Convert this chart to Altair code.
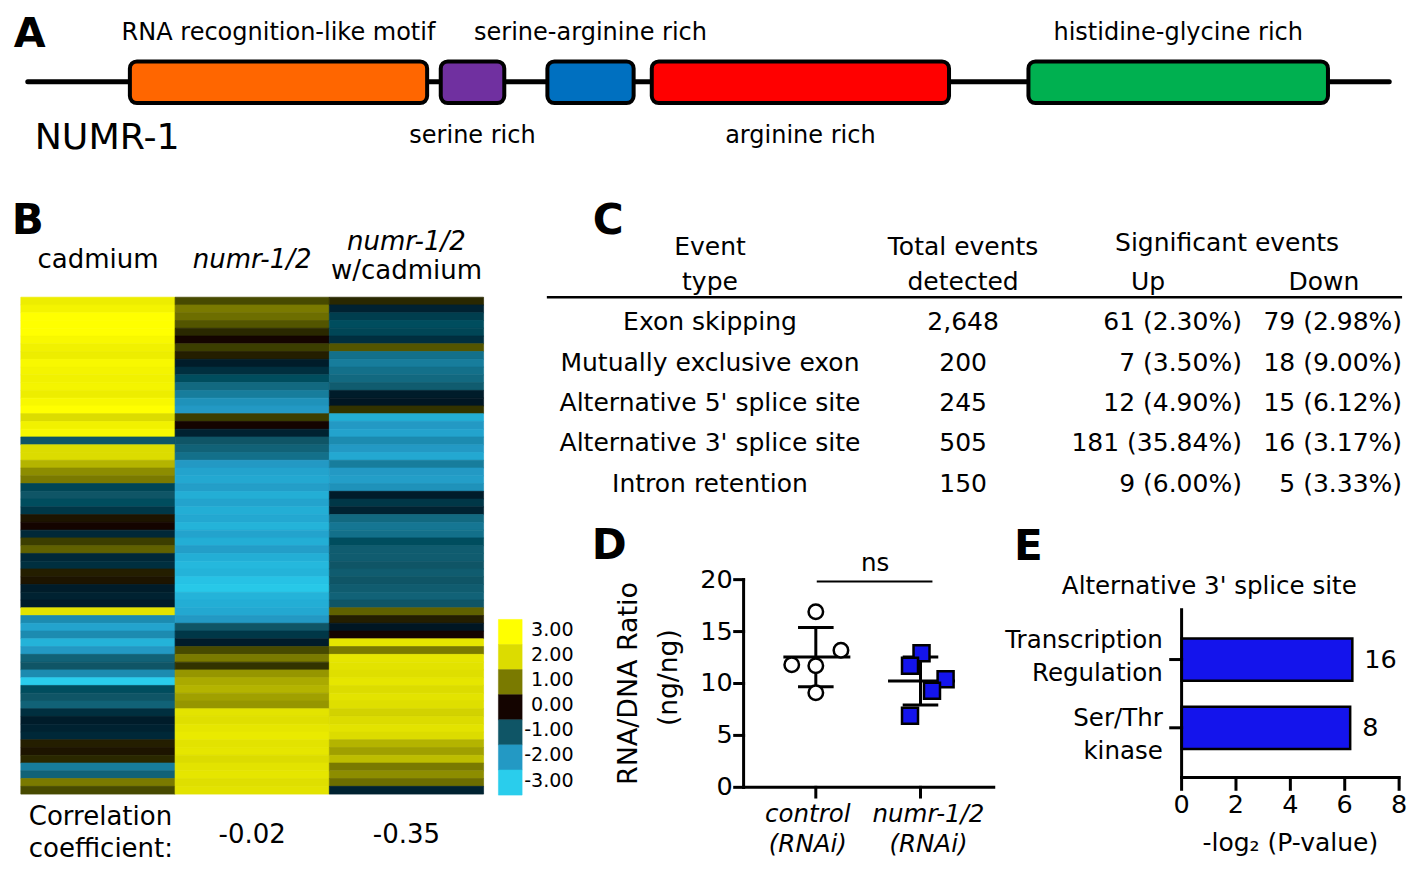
import pandas as pd
import altair as alt

W, H = 1401, 856
SX, SY = W / 1417, H / 882
FONT = "DejaVu Sans"
BLUE = "#1414EC"


def X(v):
    return round(v * SX, 2)


def Y(v):
    return round(v * SY, 2)


def F(s):
    return round(s * 0.98, 1)


# ---------------- data ----------------
# A: NUMR-1 domain architecture (residue coordinates)
protein_length = 600
domain_names = ["RNA recognition-like motif", "serine rich", "serine-arginine rich",
                "arginine rich", "histidine-glycine rich"]
domain_start = [45, 182, 229, 275, 441]
domain_end = [176, 210, 267, 406, 573]
domain_colors = ["#FF6600", "#7030A0", "#0070C0", "#FF0000", "#00B050"]
domain_label_side = ["above", "below", "above", "below", "above"]

# B: heatmap (log fold change per gene block, top to bottom)
conditions = ["cadmium", "numr-1/2", "numr-1/2 w/cadmium"]
cadmium_fc = [2.5, 2.7, 3.0, 3.0, 3.0, 2.8, 2.6, 2.5, 2.8, 2.7, 2.6, 2.7, 2.5, 2.8, 3.0, 2.0,
              2.6, 2.8, -1.0, 2.0, 2.0, 1.6, 1.2, 1.0, -0.8, -1.0, -0.9, -0.6, 0.1, 0.0, -0.4, 0.5,
              0.8, -0.4, -0.5, 0.2, 0.1, -0.2, -0.3, -0.2, 2.2, -1.8, -2.2, -1.8, -2.5, -2.0, -1.2, -1.0,
              -1.8, -3.0, -0.9, -1.0, -1.2, -0.5, -0.2, -0.3, -0.4, 0.2, 0.1, 0.3, -1.6, -1.2, 1.0, 0.6]
numr_fc = [0.6, 1.0, 0.9, 0.7, 0.3, 0.0, 0.5, 0.2, -0.2, -0.5, -0.9, -1.3, -1.6, -1.9, -2.0, 0.5,
           0.0, -0.3, -1.0, -1.2, -1.4, -2.0, -2.2, -2.3, -2.1, -2.4, -2.2, -2.4, -2.3, -2.5, -2.2, -2.4,
           -2.1, -2.4, -2.6, -2.5, -2.8, -2.9, -2.5, -2.4, -2.3, -2.0, -1.0, -0.6, -0.2, 0.6, 1.0, 0.4,
           1.3, 1.5, 1.6, 1.4, 1.3, 2.2, 2.1, 2.3, 2.4, 2.2, 2.3, 2.0, 2.2, 2.3, 2.1, 2.2]
numr_cd_fc = [0.3, -0.3, -0.7, -0.9, -0.8, -0.5, 0.7, -1.4, -1.6, -1.4, -1.3, -1.1, -0.2, -0.1, 0.4, -2.4,
              -2.0, -2.2, -1.8, -2.0, -2.3, -1.6, -2.0, -2.1, -1.9, -0.2, -0.6, -0.3, -1.3, -1.5, -1.4, -0.9,
              -1.1, -1.1, -1.0, -1.1, -1.0, -1.1, -1.2, -1.0, 0.8, 0.2, -0.1, 0.0, 2.3, 1.0, 2.3, 2.2,
              2.1, 2.3, 2.0, 2.2, 2.1, 1.9, 2.0, 2.2, 2.0, 1.6, 1.4, 1.7, 1.0, 1.2, 0.9, -0.3]
correlation_conditions = ["numr-1/2", "numr-1/2 w/cadmium"]
correlation_values = [-0.02, -0.35]
legend_levels = [3, 2, 1, 0, -1, -2, -3]
level_colors = ["#FFFF00", "#DCDC00", "#7A7A00", "#000000", "#0F5566", "#2399C4", "#2ACDEC"]

# C: splicing event table
event_types = ["Exon skipping", "Mutually exclusive exon", "Alternative 5' splice site",
               "Alternative 3' splice site", "Intron retention"]
total_events = [2648, 200, 245, 505, 150]
sig_up = [61, 7, 12, 181, 9]
sig_up_pct = [2.30, 3.50, 4.90, 35.84, 6.00]
sig_down = [79, 18, 15, 16, 5]
sig_down_pct = [2.98, 9.00, 6.12, 3.17, 3.33]

# D: RNA/DNA ratio
rnai_groups = ["control (RNAi)", "numr-1/2 (RNAi)"]
control_ratio = [16.9, 11.8, 11.7, 13.2, 9.1]
numr_ratio = [12.9, 11.7, 10.4, 9.3, 6.9]
control_jitter = [0.0, -0.23, 0.0, 0.24, 0.0]
numr_jitter = [0.01, -0.10, 0.24, 0.11, -0.10]
d_ticks = [0, 5, 10, 15, 20]

# E: enrichment for alternative 3' splice site genes
go_terms = ["Transcription Regulation", "Ser/Thr kinase"]
go_neg_log2_p = [6.28, 6.2]
go_gene_counts = [16, 8]
e_ticks = [0, 2, 4, 6, 8]


# ---------------- helpers ----------------
def label(text, x, y, size, align="center", weight="normal", style="normal", angle=0):
    return alt.Chart(pd.DataFrame({"t": [text]})).mark_text(
        font=FONT, fontSize=F(size), align=align, baseline="middle",
        fontWeight=weight, fontStyle=style, angle=angle, color="black",
    ).encode(x=alt.value(X(x)), y=alt.value(Y(y)), text="t:N")


AXW = 3  # axis stroke width
ax_kw = dict(color="black", strokeWidth=AXW, strokeCap="square")

# ---------------- panel A ----------------
dom_df = pd.DataFrame({"name": domain_names, "start": domain_start, "end": domain_end,
                       "side": domain_label_side})
a_x = alt.Scale(domain=[0, protein_length], range=[X(20), X(1397)], nice=False, zero=False)
backbone = alt.Chart(pd.DataFrame({"start": [0], "end": [protein_length]})).mark_rule(
    color="black", strokeWidth=5, strokeCap="round"
).encode(x=alt.X("start:Q", scale=a_x, axis=None), x2="end:Q", y=alt.value(Y(76)))
boxes = alt.Chart(dom_df).mark_rect(cornerRadius=7, stroke="black", strokeWidth=4).encode(
    x=alt.X("start:Q", scale=a_x, axis=None), x2="end:Q",
    y=alt.value(Y(55)), y2=alt.value(Y(98)),
    fill=alt.Fill("name:N", scale=alt.Scale(domain=domain_names, range=domain_colors), legend=None),
)
dom_lab = alt.Chart(dom_df).transform_calculate(mid="(datum.start + datum.end) / 2")
lab_above = dom_lab.transform_filter("datum.side == 'above'").mark_text(
    font=FONT, fontSize=F(24.5), baseline="middle", color="black"
).encode(x=alt.X("mid:Q", scale=a_x, axis=None), y=alt.value(Y(26)), text="name:N")
lab_below = dom_lab.transform_filter("datum.side == 'below'").mark_text(
    font=FONT, fontSize=F(24.5), baseline="middle", color="black"
).encode(x=alt.X("mid:Q", scale=a_x, axis=None), y=alt.value(Y(132)), text="name:N")
panel_a = alt.layer(backbone, boxes, lab_above, lab_below)

# ---------------- panel B ----------------
n_rows = len(cadmium_fc)
heat_df = pd.DataFrame({
    "row": list(range(n_rows)) * 3,
    "condition": [c for c in conditions for _ in range(n_rows)],
    "fc": cadmium_fc + numr_fc + numr_cd_fc,
})
hx = alt.Scale(domain=conditions, range=[X(13), X(481)], paddingInner=0, paddingOuter=0)
hy = alt.Scale(domain=list(range(n_rows)), range=[Y(298), Y(810)], paddingInner=0, paddingOuter=0)
color_scale = alt.Scale(domain=sorted(legend_levels), range=level_colors[::-1])
heat = alt.Chart(heat_df).mark_rect(strokeWidth=0.7).encode(
    x=alt.X("condition:N", scale=hx, axis=None),
    y=alt.Y("row:O", scale=hy, axis=None),
    fill=alt.Fill("fc:Q", scale=color_scale, legend=None),
    stroke=alt.Stroke("fc:Q", scale=color_scale, legend=None),
)


def head(cond, text, y, style):
    return alt.Chart(pd.DataFrame({"condition": [cond], "t": [text]})).mark_text(
        font=FONT, fontSize=F(26.5), baseline="middle", fontStyle=style, color="black"
    ).encode(x=alt.X("condition:N", scale=hx, axis=None), y=alt.value(Y(y)), text="t:N")


third = conditions[2].split(" ")
h1 = head(conditions[0], conditions[0], 260, "normal")
h2 = head(conditions[1], conditions[1], 260, "italic")
h3a = head(conditions[2], third[0], 241, "italic")
h3b = head(conditions[2], third[1], 271, "normal")
corr = alt.Chart(pd.DataFrame({"condition": correlation_conditions,
                               "t": [f"{v:.2f}" for v in correlation_values]})).mark_text(
    font=FONT, fontSize=F(26.5), baseline="middle", color="black"
).encode(x=alt.X("condition:N", scale=hx, axis=None), y=alt.value(Y(852)), text="t:N")
panel_b = alt.layer(heat, h1, h2, h3a, h3b, corr)

leg_df = pd.DataFrame({"level": legend_levels, "t": [f"{v:.2f}" for v in legend_levels]})
ly = alt.Scale(domain=legend_levels, range=[Y(630), Y(811)], paddingInner=0, paddingOuter=0)
leg_rect = alt.Chart(leg_df).mark_rect(strokeWidth=0.5).encode(
    x=alt.value(X(496)), x2=alt.value(X(520)),
    y=alt.Y("level:O", scale=ly, axis=None),
    fill=alt.Fill("level:Q", scale=color_scale, legend=None),
    stroke=alt.Stroke("level:Q", scale=color_scale, legend=None),
)
leg_text = alt.Chart(leg_df).mark_text(
    font=FONT, fontSize=F(19.5), align="right", baseline="middle", color="black", dy=-2
).encode(x=alt.value(X(572)), y=alt.Y("level:O", scale=ly, axis=None), text="t:N")
legend = alt.layer(leg_rect, leg_text)

# ---------------- panel C ----------------
tab_df = pd.DataFrame({
    "event": event_types,
    "total": [f"{v:,}" for v in total_events],
    "up": [f"{n} ({p:.2f}%)" for n, p in zip(sig_up, sig_up_pct)],
    "down": [f"{n} ({p:.2f}%)" for n, p in zip(sig_down, sig_down_pct)],
})
ty = alt.Scale(type="point", domain=event_types, range=[Y(324), Y(490)], padding=0)


def tcol(field, x, align):
    return alt.Chart(tab_df).mark_text(
        font=FONT, fontSize=F(25.5), align=align, baseline="middle", color="black"
    ).encode(x=alt.value(X(x)), y=alt.Y("event:N", scale=ty, axis=None), text=f"{field}:N")


table = alt.layer(tcol("event", 710, "center"), tcol("total", 966, "center"),
                  tcol("up", 1248, "right"), tcol("down", 1410, "right"))
table_rule = alt.Chart(pd.DataFrame({"t": [0]})).mark_rule(color="black", strokeWidth=2.5).encode(
    x=alt.value(X(545)), x2=alt.value(X(1410)), y=alt.value(Y(298)))

# ---------------- panel D ----------------
d_df = pd.DataFrame({
    "group": [0] * len(control_ratio) + [1] * len(numr_ratio),
    "ratio": control_ratio + numr_ratio,
    "jitter": control_jitter + numr_jitter,
})
d_xmin, d_xmax = -0.69, 1.70
dx_scale = alt.Scale(domain=[d_xmin, d_xmax], range=[X(744), X(997)], nice=False, zero=False)
dy_scale = alt.Scale(domain=[d_ticks[0], d_ticks[-1]], range=[Y(803), Y(589)], nice=False, zero=False)

pts = alt.Chart(d_df).transform_calculate(xpos="datum.group + datum.jitter")
ctrl_pts = pts.transform_filter("datum.group == 0").mark_point(
    shape="circle", filled=True, fill="white", stroke="black", strokeWidth=2.5, size=210, opacity=1
).encode(x=alt.X("xpos:Q", scale=dx_scale, axis=None),
         y=alt.Y("ratio:Q", scale=dy_scale, axis=None))
numr_pts = pts.transform_filter("datum.group == 1").mark_square(
    fill=BLUE, stroke="black", strokeWidth=2.5, size=256, opacity=1
).encode(x=alt.X("xpos:Q", scale=dx_scale, axis=None),
         y=alt.Y("ratio:Q", scale=dy_scale, axis=None))
summ = alt.Chart(d_df).transform_aggregate(
    mean="mean(ratio)", sd="stdev(ratio)", groupby=["group"]
).transform_calculate(
    lo="datum.mean - datum.sd", hi="datum.mean + datum.sd",
    mlo="datum.group - 0.31", mhi="datum.group + 0.33",
    clo="datum.group - 0.17", chi="datum.group + 0.17",
)
rule_kw = dict(color="black", strokeWidth=3)
sd_line = summ.mark_rule(**rule_kw).encode(
    x=alt.X("group:Q", scale=dx_scale, axis=None),
    y=alt.Y("lo:Q", scale=dy_scale, axis=None), y2="hi:Q")
mean_line = summ.mark_rule(**rule_kw).encode(
    x=alt.X("mlo:Q", scale=dx_scale, axis=None), x2="mhi:Q",
    y=alt.Y("mean:Q", scale=dy_scale, axis=None))
cap_hi = summ.mark_rule(**rule_kw).encode(
    x=alt.X("clo:Q", scale=dx_scale, axis=None), x2="chi:Q",
    y=alt.Y("hi:Q", scale=dy_scale, axis=None))
cap_lo = summ.mark_rule(**rule_kw).encode(
    x=alt.X("clo:Q", scale=dx_scale, axis=None), x2="chi:Q",
    y=alt.Y("lo:Q", scale=dy_scale, axis=None))

# D axes (drawn from the tick arrays through the panel scales)
d_tick_df = pd.DataFrame({"v": d_ticks, "t": [str(v) for v in d_ticks]})
d_grp_df = pd.DataFrame({"g": [0, 1], "t": rnai_groups})
d_yline = alt.Chart(pd.DataFrame({"lo": [d_ticks[0]], "hi": [d_ticks[-1]]})).mark_rule(**ax_kw).encode(
    x=alt.value(X(744)), y=alt.Y("lo:Q", scale=dy_scale, axis=None), y2="hi:Q")
d_yticks = alt.Chart(d_tick_df).mark_rule(**ax_kw).encode(
    x=alt.value(X(735)), x2=alt.value(X(744)), y=alt.Y("v:Q", scale=dy_scale, axis=None))
d_ylabels = alt.Chart(d_tick_df).mark_text(
    font=FONT, fontSize=F(26), align="right", baseline="middle", color="black"
).encode(x=alt.value(X(733)), y=alt.Y("v:Q", scale=dy_scale, axis=None), text="t:N")
d_xline = alt.Chart(pd.DataFrame({"lo": [d_xmin], "hi": [d_xmax]})).mark_rule(**ax_kw).encode(
    x=alt.X("lo:Q", scale=dx_scale, axis=None), x2="hi:Q", y=alt.value(Y(803)))
d_xticks = alt.Chart(d_grp_df).mark_rule(**ax_kw).encode(
    x=alt.X("g:Q", scale=dx_scale, axis=None), y=alt.value(Y(803)), y2=alt.value(Y(813)))


def d_xlabel(g, shift):
    return alt.Chart(d_grp_df).transform_filter(f"datum.g == {g}").mark_text(
        font=FONT, fontSize=F(25), fontStyle="italic", align="center", baseline="middle",
        lineBreak=" ", lineHeight=30, color="black", dx=shift
    ).encode(x=alt.X("g:Q", scale=dx_scale, axis=None), y=alt.value(Y(832)), text="t:N")


panel_d = alt.layer(sd_line, mean_line, cap_hi, cap_lo, ctrl_pts, numr_pts,
                    d_yline, d_yticks, d_ylabels, d_xline, d_xticks,
                    d_xlabel(0, -8), d_xlabel(1, 8))
bracket = alt.Chart(pd.DataFrame({"t": [0]})).mark_rule(color="black", strokeWidth=2).encode(
    x=alt.value(X(818)), x2=alt.value(X(935)), y=alt.value(Y(591)))

# ---------------- panel E ----------------
e_df = pd.DataFrame({"term": go_terms, "score": go_neg_log2_p, "count": go_gene_counts})
ex = alt.Scale(domain=[e_ticks[0], e_ticks[-1]], range=[X(1187), X(1407)], nice=False, zero=False)
ey = alt.Scale(domain=go_terms, range=[Y(620), Y(793)], paddingInner=0.38, paddingOuter=0.42)
e_bar = alt.Chart(e_df).mark_bar(fill=BLUE, stroke="black", strokeWidth=2.5, opacity=1).encode(
    x=alt.X("score:Q", scale=ex, axis=None), y=alt.Y("term:N", scale=ey, axis=None))
e_cnt = alt.Chart(e_df).mark_text(
    font=FONT, fontSize=F(26), align="left", baseline="middle", dx=12, color="black"
).encode(x=alt.X("score:Q", scale=ex, axis=None),
         y=alt.Y("term:N", scale=ey, axis=None, bandPosition=0.5), text="count:N")
e_tick_df = pd.DataFrame({"v": e_ticks, "t": [str(v) for v in e_ticks]})
e_yline = alt.Chart(pd.DataFrame({"t": [0]})).mark_rule(**ax_kw).encode(
    x=alt.value(X(1187)), y=alt.value(Y(620)), y2=alt.value(Y(793)))
e_yticks = alt.Chart(e_df).mark_rule(**ax_kw).encode(
    x=alt.value(X(1176)), x2=alt.value(X(1187)),
    y=alt.Y("term:N", scale=ey, axis=None, bandPosition=0.5))


def e_ylabel(i, shift):
    return alt.Chart(e_df).transform_filter(
        alt.FieldEqualPredicate(field="term", equal=go_terms[i])
    ).mark_text(
        font=FONT, fontSize=F(25), align="right", baseline="middle", lineBreak=" ", lineHeight=33,
        color="black", dy=shift
    ).encode(x=alt.value(X(1168)), y=alt.Y("term:N", scale=ey, axis=None, bandPosition=0.5),
             text="term:N")


e_xline = alt.Chart(pd.DataFrame({"lo": [e_ticks[0]], "hi": [e_ticks[-1]]})).mark_rule(**ax_kw).encode(
    x=alt.X("lo:Q", scale=ex, axis=None), x2="hi:Q", y=alt.value(Y(793)))
e_xticks = alt.Chart(e_tick_df).mark_rule(**ax_kw).encode(
    x=alt.X("v:Q", scale=ex, axis=None), y=alt.value(Y(793)), y2=alt.value(Y(805)))
e_xlabels = alt.Chart(e_tick_df).mark_text(
    font=FONT, fontSize=F(26), align="center", baseline="middle", color="black"
).encode(x=alt.X("v:Q", scale=ex, axis=None), y=alt.value(Y(821)), text="t:N")
panel_e = alt.layer(e_bar, e_cnt, e_yline, e_yticks, e_ylabel(0, -19), e_ylabel(1, -9),
                    e_xline, e_xticks, e_xlabels)

# ---------------- static text ----------------
static = [
    label("A", 22, 28, 42, weight="bold"),
    label("NUMR-1", 27, 134, 37, align="left"),
    label("B", 20, 219, 43, weight="bold"),
    label("Correlation", 21, 834, 26.5, align="left"),
    label("coefficient:", 21, 867, 26.5, align="left"),
    label("C", 607, 219, 43, weight="bold"),
    label("Event", 710, 246, 25.5),
    label("type", 710, 282, 25.5),
    label("Total events", 966, 246, 25.5),
    label("detected", 966, 282, 25.5),
    label("Significant events", 1233, 242, 25.5),
    label("Up", 1153, 282, 25.5),
    label("Down", 1331, 282, 25.5),
    label("D", 608, 554, 43, weight="bold"),
    label("ns", 877, 573, 25),
    label("RNA/DNA Ratio", 628, 696, 27.5, angle=270),
    label("(ng/ng)", 669, 690, 27, angle=270),
    label("E", 1032, 555, 43, weight="bold"),
    label("Alternative 3' splice site", 1215, 597, 25),
    label("-log\u2082 (P-value)", 1297, 860, 25.5),
]

chart = alt.layer(
    panel_a, panel_b, legend, table, table_rule, panel_d, bracket, panel_e, *static
).resolve_scale(
    x="independent", y="independent", fill="independent", stroke="independent"
).properties(
    width=W, height=H, padding=0, autosize=alt.AutoSizeParams(type="none")
).configure_view(stroke=None)

chart.save("out.html", embed_options={"renderer": "svg", "actions": False})
